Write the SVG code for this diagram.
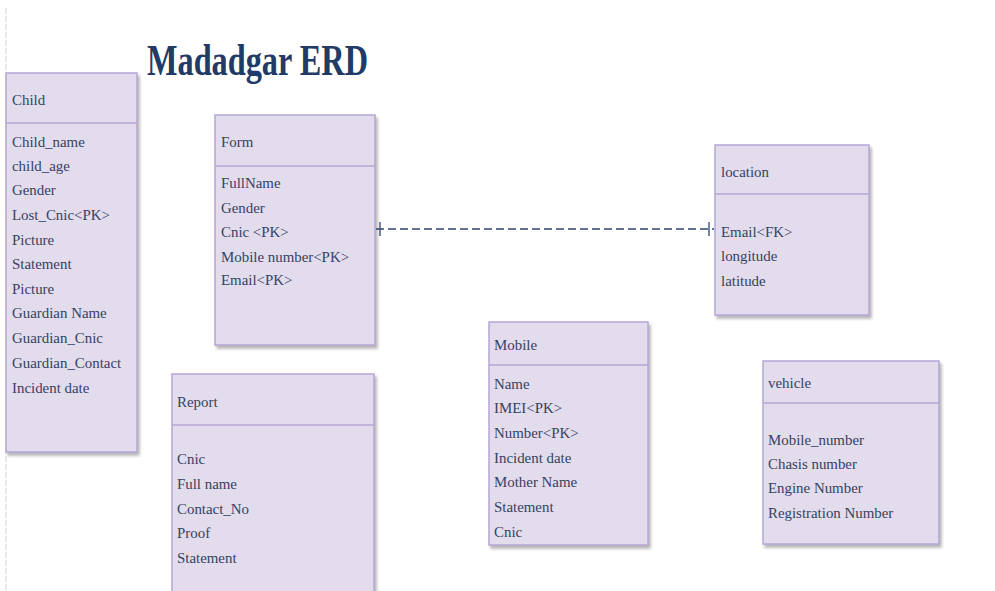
<svg xmlns="http://www.w3.org/2000/svg" width="995" height="591" viewBox="0 0 995 591">
<defs>
<filter id="sh" x="-10%" y="-10%" width="120%" height="120%">
<feDropShadow dx="2" dy="3" stdDeviation="1.5" flood-color="#7a7a7a" flood-opacity="0.55"/>
</filter>
</defs>
<style>
.box{fill:#e2dcec;stroke:#b7a6d6;stroke-width:1.5}
.div{stroke:#b7a6d6;stroke-width:1.5}
text{font-family:'Liberation Serif','Times New Roman','DejaVu Serif',serif}
.t{font-size:14.9px;fill:#364263}
.title{font-weight:bold;font-size:44px;fill:#223a66}
.conn{stroke:#30446f;stroke-width:1.3;fill:none}
</style>
<rect width="995" height="591" fill="#ffffff"/>
<line x1="6" y1="8" x2="6" y2="590" stroke="#dcdcdc" stroke-width="1.2" stroke-dasharray="6,2"/>
<text class="title" x="147" y="75" textLength="221" lengthAdjust="spacingAndGlyphs">Madadgar ERD</text>

<g id="child">
<rect class="box" filter="url(#sh)" x="6" y="73" width="131" height="379"/>
<line class="div" x1="6" y1="123" x2="137" y2="123"/>
<text class="t" x="12" y="105">Child</text>
<text class="t" x="12" y="147">Child_name</text>
<text class="t" x="12" y="171">child_age</text>
<text class="t" x="12" y="195">Gender</text>
<text class="t" x="12" y="220">Lost_Cnic&lt;PK&gt;</text>
<text class="t" x="12" y="245">Picture</text>
<text class="t" x="12" y="269">Statement</text>
<text class="t" x="12" y="294">Picture</text>
<text class="t" x="12" y="318">Guardian Name</text>
<text class="t" x="12" y="343">Guardian_Cnic</text>
<text class="t" x="12" y="368">Guardian_Contact</text>
<text class="t" x="12" y="393">Incident date</text>
</g>

<g id="form">
<rect class="box" filter="url(#sh)" x="215" y="115" width="160" height="230"/>
<line class="div" x1="215" y1="166" x2="375" y2="166"/>
<text class="t" x="221" y="147">Form</text>
<text class="t" x="221" y="188">FullName</text>
<text class="t" x="221" y="213">Gender</text>
<text class="t" x="221" y="237">Cnic &lt;PK&gt;</text>
<text class="t" x="221" y="262">Mobile number&lt;PK&gt;</text>
<text class="t" x="221" y="285">Email&lt;PK&gt;</text>
</g>

<g id="location">
<rect class="box" filter="url(#sh)" x="715" y="145" width="154" height="170"/>
<line class="div" x1="715" y1="194" x2="869" y2="194"/>
<text class="t" x="721" y="177">location</text>
<text class="t" x="721" y="237">Email&lt;FK&gt;</text>
<text class="t" x="721" y="261">longitude</text>
<text class="t" x="721" y="286">latitude</text>
</g>

<g id="report">
<rect class="box" filter="url(#sh)" x="172" y="374" width="202" height="222"/>
<line class="div" x1="172" y1="425" x2="374" y2="425"/>
<text class="t" x="177" y="407">Report</text>
<text class="t" x="177" y="464">Cnic</text>
<text class="t" x="177" y="489">Full name</text>
<text class="t" x="177" y="514">Contact_No</text>
<text class="t" x="177" y="538">Proof</text>
<text class="t" x="177" y="563">Statement</text>
</g>

<g id="mobile">
<rect class="box" filter="url(#sh)" x="489" y="322" width="159" height="223"/>
<line class="div" x1="489" y1="365" x2="648" y2="365"/>
<text class="t" x="494" y="350">Mobile</text>
<text class="t" x="494" y="389">Name</text>
<text class="t" x="494" y="413">IMEI&lt;PK&gt;</text>
<text class="t" x="494" y="438">Number&lt;PK&gt;</text>
<text class="t" x="494" y="463">Incident date</text>
<text class="t" x="494" y="487">Mother Name</text>
<text class="t" x="494" y="512">Statement</text>
<text class="t" x="494" y="537">Cnic</text>
</g>

<g id="vehicle">
<rect class="box" filter="url(#sh)" x="763" y="361" width="176" height="183"/>
<line class="div" x1="763" y1="403" x2="939" y2="403"/>
<text class="t" x="768" y="388">vehicle</text>
<text class="t" x="768" y="445">Mobile_number</text>
<text class="t" x="768" y="469">Chasis number</text>
<text class="t" x="768" y="493">Engine Number</text>
<text class="t" x="768" y="518">Registration Number</text>
</g>

<g id="connectors">
<line class="conn" x1="376" y1="229" x2="714" y2="229" stroke-dasharray="8,4"/>
<line class="conn" x1="380" y1="222" x2="380" y2="236"/>
<line class="conn" x1="709" y1="222" x2="709" y2="236"/>
</g>
</svg>
